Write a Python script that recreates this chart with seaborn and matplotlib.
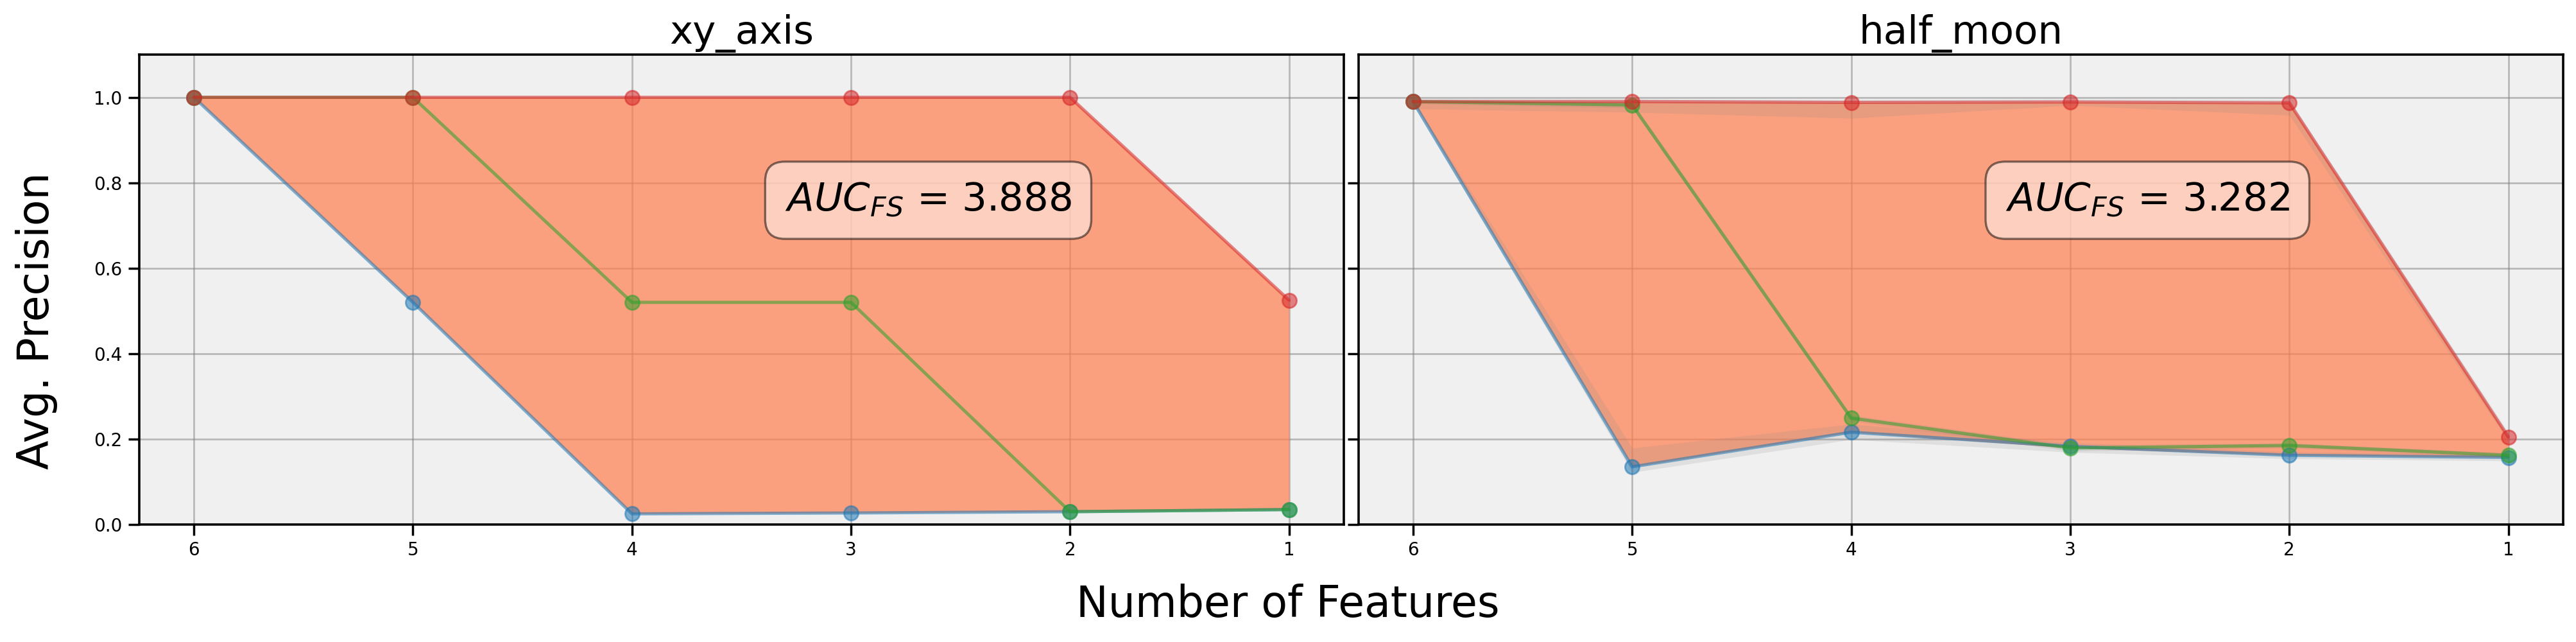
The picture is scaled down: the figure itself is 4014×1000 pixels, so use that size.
import numpy as np
import pandas as pd
import matplotlib
matplotlib.use("Agg")
import matplotlib.pyplot as plt
import seaborn as sns

# number of features kept (x axis, drawn from 6 down to 1)
n_features = [6, 5, 4, 3, 2, 1]

datasets = ["xy_axis", "half_moon"]
auc_fs = [3.888, 3.282]
methods = ["low", "mid", "high"]
colors = ["tab:blue", "tab:green", "tab:red"]

# avg. precision per method, xy_axis
xy_low = [1.0, 0.52, 0.025, 0.027, 0.03, 0.035]
xy_mid = [1.0, 1.0, 0.52, 0.52, 0.03, 0.035]
xy_high = [1.0, 1.0, 1.0, 1.0, 1.0, 0.525]

# avg. precision per method, half_moon
hm_low = [0.99, 0.135, 0.216, 0.183, 0.162, 0.157]
hm_mid = [0.99, 0.982, 0.249, 0.179, 0.185, 0.162]
hm_high = [0.99, 0.99, 0.988, 0.989, 0.987, 0.205]

# spread bands (lower / upper) for half_moon
hm_low_lo = [0.982, 0.122, 0.199, 0.169, 0.154, 0.149]
hm_low_hi = [0.995, 0.179, 0.235, 0.192, 0.170, 0.165]
hm_mid_lo = [0.985, 0.975, 0.242, 0.172, 0.179, 0.156]
hm_mid_hi = [0.995, 0.99, 0.256, 0.186, 0.191, 0.168]
hm_high_lo = [0.973, 0.965, 0.951, 0.981, 0.958, 0.195]
hm_high_hi = [0.997, 0.996, 0.995, 0.996, 0.995, 0.215]

series = {
    "xy_axis": [xy_low, xy_mid, xy_high],
    "half_moon": [hm_low, hm_mid, hm_high],
}
bands = {
    "xy_axis": None,
    "half_moon": [(hm_low_lo, hm_low_hi), (hm_mid_lo, hm_mid_hi), (hm_high_lo, hm_high_hi)],
}

sns.set_theme(style="ticks", rc={
    "axes.facecolor": "#f0f0f0",
    "axes.edgecolor": "black",
    "axes.linewidth": 1.3,
    "xtick.labelsize": 10,
    "ytick.labelsize": 10,
    "xtick.color": "black",
    "ytick.color": "black",
    "text.color": "black",
    "axes.labelcolor": "black",
})
plt.rcParams["font.family"] = ["DejaVu Sans"]

fig, axes = plt.subplots(1, 2, figsize=(20.07, 5), dpi=200, sharey=True)
fig.subplots_adjust(left=0.054, right=0.995, bottom=0.183, top=0.915, wspace=0.012)

for ax, name, auc in zip(axes, datasets, auc_fs):
    vals = series[name]
    df = pd.DataFrame({
        "n": np.tile(n_features, len(methods)),
        "ap": np.concatenate(vals),
        "method": np.repeat(methods, len(n_features)),
    })
    lo = np.min(np.array(vals), axis=0)
    hi = np.max(np.array(vals), axis=0)
    ax.fill_between(n_features, lo, hi, color="coral", alpha=0.7, linewidth=0, zorder=1)
    if bands[name] is not None:
        for b_lo, b_hi in bands[name]:
            ax.fill_between(n_features, b_lo, b_hi, color="grey", alpha=0.15, linewidth=0, zorder=1.2)
    sns.lineplot(data=df, x="n", y="ap", hue="method", palette=colors, marker="o",
                 markersize=8, linewidth=1.8, alpha=0.55, legend=False, ax=ax, zorder=3)
    for ln in ax.lines:
        ln.set_markeredgecolor(ln.get_color())
        ln.set_markeredgewidth(1.0)
    ax.grid(True, color="grey", alpha=0.5, linewidth=1)
    ax.set_xticks(n_features)
    ax.set_xlim(6.25, 0.75)
    ax.set_ylim(0, 1.1)
    ax.set_yticks([0.0, 0.2, 0.4, 0.6, 0.8, 1.0])
    ax.set_xlabel("")
    ax.set_ylabel("")
    ax.set_title(name, fontsize=22, color="black")
    ax.text(0.655, 0.69, r"$AUC_{FS}$ = " + f"{auc:.3f}", transform=ax.transAxes,
            ha="center", va="center", fontsize=22, zorder=5, color="black",
            bbox=dict(boxstyle="round", facecolor="white", edgecolor="black",
                      alpha=0.5, pad=0.5, linewidth=1.2))

axes[1].tick_params(labelleft=False)

fig.supylabel("Avg. Precision", fontsize=24, x=0.006, color="black")
fig.supxlabel("Number of Features", fontsize=24, y=0.025, color="black")

fig.savefig("out.png", dpi=200)
